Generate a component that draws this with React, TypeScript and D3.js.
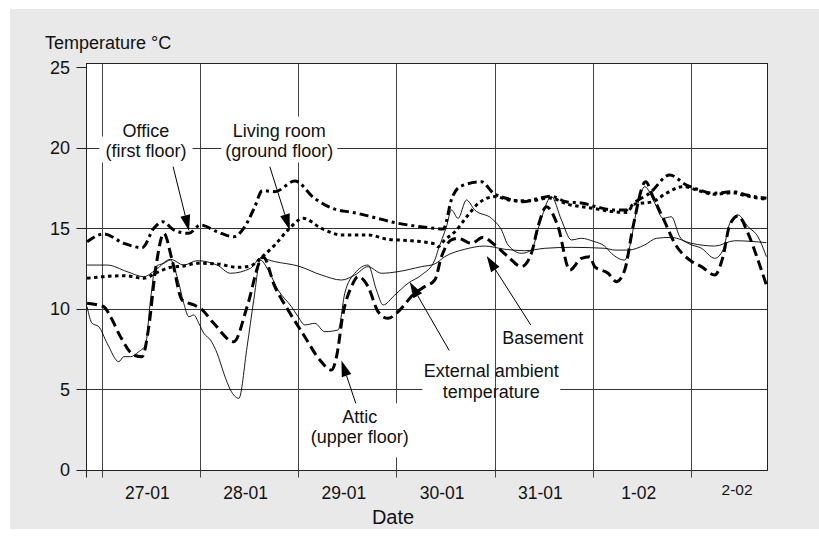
import React from "react";
import * as d3 from "d3";

const W = 819;
const H = 539;

const yTicks = [0, 5, 10, 15, 20, 25];
const dayStarts = [0, 1, 2, 3, 4, 5, 6];
const dateLabels = ["27-01", "28-01", "29-01", "30-01", "31-01", "1-02", "2-02"];

// [day offset from 27-01 00:00, temperature °C]
const office: [number, number][] = [
  [-0.153, 14.18], [0.017, 14.66], [0.221, 14.08], [0.407, 13.81], [0.526, 15.01], [0.617, 15.42],
  [0.729, 14.91], [0.882, 14.7], [1.001, 15.22], [1.17, 14.8], [1.34, 14.49], [1.45, 15.1],
  [1.55, 16.3], [1.63, 17.35], [1.76, 17.29], [1.96, 17.95], [2.16, 16.88], [2.367, 16.2],
  [2.55, 16.0], [2.74, 15.73], [2.98, 15.36], [3.18, 15.16], [3.385, 15.01], [3.47, 14.97],
  [3.56, 16.9], [3.64, 17.6], [3.86, 17.9], [3.98, 17.2], [4.11, 16.88], [4.28, 16.66],
  [4.45, 16.88], [4.57, 17.0], [4.72, 16.66], [4.89, 16.57], [5.03, 16.35], [5.2, 16.15],
  [5.34, 16.15], [5.41, 16.57], [5.571, 17.19], [5.775, 18.32], [5.945, 17.7], [6.08, 17.39],
  [6.22, 17.19], [6.42, 17.29], [6.555, 17.08], [6.759, 16.88],
];

const livingRoom: [number, number][] = [
  [-0.153, 11.91], [0.017, 12.01], [0.221, 12.07], [0.424, 11.91], [0.543, 12.22], [0.696, 12.59],
  [0.831, 12.67], [0.966, 12.84], [1.17, 12.8], [1.373, 12.59], [1.51, 12.67], [1.611, 13.15],
  [1.757, 13.98], [1.892, 14.91], [2.045, 15.63], [2.232, 15.01], [2.435, 14.6], [2.706, 14.6],
  [2.909, 14.33], [3.147, 14.24], [3.385, 14.04], [3.418, 13.87], [3.486, 14.29], [3.59, 14.8],
  [3.71, 15.73], [3.83, 16.57], [4.0, 16.98], [4.165, 16.75], [4.368, 16.72], [4.55, 16.9],
  [4.741, 16.5], [4.979, 16.27], [5.2, 16.05], [5.34, 16.0], [5.41, 16.5], [5.6, 16.66],
  [5.74, 17.19], [5.91, 17.6], [6.08, 17.33], [6.22, 17.12], [6.42, 17.22], [6.555, 17.02],
  [6.759, 16.82],
];

const attic: [number, number][] = [
  [-0.153, 10.35], [0.017, 10.14], [0.085, 9.52], [0.187, 8.28], [0.322, 7.14], [0.407, 7.04],
  [0.475, 8.9], [0.543, 12.42], [0.628, 14.7], [0.712, 13.04], [0.814, 10.56], [0.933, 10.25],
  [1.001, 10.04], [1.136, 9.11], [1.34, 7.97], [1.475, 10.14], [1.611, 13.04], [1.638, 13.25],
  [1.757, 11.39], [1.892, 9.94], [2.062, 8.28], [2.215, 6.83], [2.334, 6.21], [2.385, 7.04],
  [2.452, 9.73], [2.537, 11.39], [2.604, 12.01], [2.706, 11.39], [2.808, 9.83], [2.909, 9.42],
  [3.011, 9.83], [3.181, 10.98], [3.283, 11.39], [3.385, 11.8], [3.453, 13.25], [3.554, 14.29],
  [3.622, 14.39], [3.758, 14.08], [3.876, 14.45], [3.995, 13.98], [4.13, 13.25], [4.266, 12.63],
  [4.368, 13.46], [4.435, 15.11], [4.521, 16.35], [4.639, 15.11], [4.758, 12.42], [4.877, 13.15],
  [4.961, 13.25], [5.012, 12.63], [5.148, 12.22], [5.233, 11.7], [5.317, 12.42], [5.402, 15.11],
  [5.53, 17.9], [5.605, 16.98], [5.724, 15.42], [5.826, 14.08], [5.979, 13.04], [6.098, 12.63],
  [6.233, 12.11], [6.317, 13.25], [6.386, 15.22], [6.47, 15.78], [6.572, 14.7], [6.673, 13.04],
  [6.759, 11.49],
];

const external: [number, number][] = [
  [-0.153, 10.14], [-0.102, 9.11], [-0.034, 8.9], [0.051, 7.87], [0.17, 6.73], [0.221, 7.04],
  [0.289, 7.04], [0.373, 7.35], [0.441, 7.76], [0.492, 10.56], [0.543, 12.63], [0.628, 12.84],
  [0.696, 13.04], [0.763, 12.01], [0.831, 10.35], [0.882, 9.52], [0.933, 9.63], [0.984, 9.11],
  [1.035, 8.49], [1.103, 8.07], [1.17, 7.25], [1.238, 6.01], [1.306, 4.97], [1.391, 4.45],
  [1.475, 7.66], [1.543, 10.56], [1.611, 13.04], [1.689, 12.42], [1.79, 11.18], [1.927, 10.14],
  [1.994, 9.52], [2.062, 9.01], [2.164, 9.11], [2.266, 8.59], [2.401, 8.7], [2.469, 10.98],
  [2.571, 12.22], [2.706, 12.73], [2.791, 11.18], [2.859, 10.25], [2.978, 10.87], [3.113, 11.6],
  [3.249, 12.11], [3.385, 13.04], [3.418, 13.66], [3.503, 15.11], [3.554, 16.15], [3.622, 15.63],
  [3.707, 16.77], [3.791, 16.15], [3.961, 15.63], [4.063, 14.91], [4.13, 13.98], [4.266, 13.46],
  [4.368, 13.66], [4.453, 15.32], [4.572, 16.98], [4.673, 15.53], [4.775, 14.29], [4.877, 14.39],
  [5.0, 14.2], [5.114, 13.9], [5.182, 13.46], [5.317, 13.04], [5.368, 13.87], [5.453, 16.57],
  [5.521, 17.6], [5.623, 16.57], [5.707, 15.63], [5.792, 15.73], [5.877, 14.49], [5.962, 14.08],
  [6.098, 13.77], [6.233, 13.15], [6.317, 13.66], [6.386, 15.32], [6.47, 15.84], [6.572, 15.11],
  [6.673, 14.49], [6.759, 13.25],
];

const basement: [number, number][] = [
  [-0.153, 12.73], [0.051, 12.73], [0.254, 12.32], [0.424, 12.01], [0.543, 12.42], [0.696, 13.09],
  [0.831, 12.73], [0.966, 13.0], [1.17, 12.73], [1.306, 12.22], [1.51, 12.53], [1.611, 13.15],
  [1.757, 12.94], [1.994, 12.67], [2.232, 12.11], [2.435, 11.8], [2.571, 12.11], [2.706, 12.63],
  [2.842, 12.22], [3.011, 12.32], [3.249, 12.63], [3.385, 12.8], [3.486, 13.25], [3.69, 13.71],
  [3.893, 13.91], [4.097, 13.71], [4.3, 13.62], [4.504, 13.77], [4.775, 13.83], [5.114, 13.77],
  [5.216, 13.66], [5.351, 13.66], [5.521, 13.98], [5.64, 14.39], [5.792, 14.45], [5.996, 14.08],
  [6.233, 13.91], [6.436, 14.24], [6.759, 14.12],
];

const FONT = "'Liberation Sans', Arial, Helvetica, sans-serif";

export default function App() {
  const x = d3.scaleLinear().domain([-0.159, 6.77]).range([86.5, 767.5]);
  const y = d3.scaleLinear().domain([0, 25]).range([470, 67.5]);
  const crisp = (v: number) => Math.floor(v) + 0.5;
  const left = crisp(x(-0.159));
  const right = crisp(x(6.77));
  const bottom = crisp(y(0));
  const top = 63.5;

  const line = d3
    .line<[number, number]>()
    .x((d) => x(d[0]))
    .y((d) => y(d[1]))
    .curve(d3.curveMonotoneX);

  const series = [
    { data: office, width: 3, dash: "9,4,3,4" },
    { data: livingRoom, width: 3, dash: "3.5,3.5" },
    { data: attic, width: 3, dash: "10,5" },
    { data: external, width: 0.9, dash: "none" },
    { data: basement, width: 0.9, dash: "none" },
  ];

  // annotations in data coordinates
  const arrows: { tail: [number, number]; tip: [number, number] }[] = [
    { tail: [0.722, 18.84], tip: [0.885, 14.84] },
    { tail: [1.706, 18.84], tip: [1.909, 14.91] },
    { tail: [2.581, 4.14], tip: [2.435, 6.8] },
    { tail: [3.532, 7.42], tip: [3.13, 11.68] },
    { tail: [4.361, 9.01], tip: [3.913, 13.29] },
  ];

  const labels: { text: string; at: [number, number]; box?: number }[] = [
    { text: "Office", at: [0.446, 20.71] },
    { text: "(first floor)", at: [0.446, 19.47], box: 93 },
    { text: "Living room", at: [1.803, 20.71], box: 103 },
    { text: "(ground floor)", at: [1.803, 19.47], box: 116 },
    { text: "Attic", at: [2.622, 2.9] },
    { text: "(upper floor)", at: [2.622, 1.65] },
    { text: "Basement", at: [4.483, 7.83] },
    { text: "External ambient", at: [3.96, 5.76] },
    { text: "temperature", at: [3.96, 4.47] },
  ];

  const arrowShapes = arrows.map((a) => {
    const x1 = x(a.tail[0]);
    const y1 = y(a.tail[1]);
    const x2 = x(a.tip[0]);
    const y2 = y(a.tip[1]);
    const dx = x2 - x1;
    const dy = y2 - y1;
    const len = Math.hypot(dx, dy);
    const ux = dx / len;
    const uy = dy / len;
    const hl = 16;
    const hw = 5;
    const bx = x2 - ux * hl;
    const by = y2 - uy * hl;
    const pts = [
      [x2, y2],
      [bx - uy * hw, by + ux * hw],
      [bx + uy * hw, by - ux * hw],
    ];
    return { x1, y1, bx, by, pts: pts.map((p) => p.join(",")).join(" ") };
  });

  return (
    <svg
      width={W}
      height={H}
      style={{ position: "absolute", left: 0, top: 0, fontFamily: FONT }}
    >
      <rect x={0} y={0} width={W} height={H} fill="#ffffff" />
      <rect x={10} y={9} width={W - 10} height={520} fill="#e9e9e9" />
      <rect x={left} y={top} width={right - left} height={bottom - top} fill="#ffffff" />

      {/* horizontal gridlines */}
      {yTicks.slice(1, 5).map((t) => (
        <line key={"h" + t} x1={left} x2={right} y1={crisp(y(t))} y2={crisp(y(t))} stroke="#333" strokeWidth={1} />
      ))}
      {/* gap in the 5°C gridline behind the external label */}
      <rect x={x(3.96) - 69} y={y(5) - 4} width={138} height={8} fill="#ffffff" />

      {/* vertical gridlines (day boundaries) */}
      {dayStarts.map((d) => (
        <line key={"v" + d} x1={crisp(x(d))} x2={crisp(x(d))} y1={top} y2={bottom + 7} stroke="#444" strokeWidth={1} />
      ))}

      {/* white boxes behind labels */}
      {labels
        .filter((l) => l.box)
        .map((l, i) => (
          <rect key={"b" + i} x={x(l.at[0]) - l.box! / 2} y={y(l.at[1]) - 20} width={l.box} height={26} fill="#ffffff" />
        ))}
      <rect x={x(2.622) - 52} y={y(2.9) - 20} width={103} height={54} fill="#ffffff" />

      {/* frame & axes */}
      <rect x={left} y={top} width={right - left} height={bottom - top} fill="none" stroke="#222" strokeWidth={1} />
      <line x1={left} x2={left} y1={bottom} y2={bottom + 7} stroke="#222" />
      {yTicks.map((t) => (
        <g key={"yt" + t}>
          <line x1={left - 10} x2={left} y1={crisp(y(t))} y2={crisp(y(t))} stroke="#222" />
          <text x={70} y={y(t)} dy="0.35em" textAnchor="end" fontSize={18} fill="#111">
            {t}
          </text>
        </g>
      ))}
      {dateLabels.map((lab, i) => (
        <text
          key={lab}
          x={x(dayStarts[i] + 0.46)}
          y={i === 6 ? 495 : 498.5}
          textAnchor="middle"
          fontSize={i === 6 ? 15.5 : 17.5}
          fill="#111"
        >
          {lab}
        </text>
      ))}
      <text x={393} y={523.5} textAnchor="middle" fontSize={20} fill="#111">
        Date
      </text>
      <text x={45} y={48.5} fontSize={18} fill="#111">
        Temperature °C
      </text>

      {/* series */}
      {series.map((s, i) => (
        <path
          key={"s" + i}
          d={line(s.data) || ""}
          fill="none"
          stroke="#000"
          strokeWidth={s.width}
          strokeDasharray={s.dash}
          strokeLinejoin="round"
        />
      ))}

      {/* arrows */}
      {arrowShapes.map((a, i) => (
        <g key={"a" + i}>
          <line x1={a.x1} y1={a.y1} x2={a.bx} y2={a.by} stroke="#000" strokeWidth={1} />
          <polygon points={a.pts} fill="#000" />
        </g>
      ))}

      {/* labels */}
      {labels.map((l, i) => (
        <text key={"l" + i} x={x(l.at[0])} y={y(l.at[1])} textAnchor="middle" fontSize={18} fill="#111">
          {l.text}
        </text>
      ))}
    </svg>
  );
}
